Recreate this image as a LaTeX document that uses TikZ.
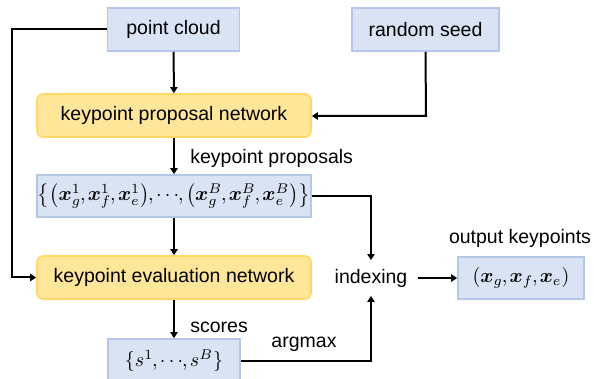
\documentclass[tikz,border=0pt]{standalone}
\usepackage{amsmath}
\usepackage{fontspec}
\setmainfont{Liberation Sans}
\usetikzlibrary{arrows.meta}
\definecolor{bfill}{HTML}{DAE3F3}
\definecolor{bdraw}{HTML}{B4C7E7}
\definecolor{yfill}{HTML}{FFE699}
\definecolor{ydraw}{HTML}{FFD966}
\newcommand{\bx}{\boldsymbol{x}}
\newcommand{\cm}{\mathpunct{\mkern-1mu,\mkern-1mu}}
\tikzset{
  bluebox/.style={draw=bdraw, fill=bfill, line width=0.8pt, inner sep=0pt, minimum height=21.5pt},
  yellowbox/.style={draw=ydraw, fill=yfill, line width=0.8pt, rounded corners=3pt, inner sep=0pt, minimum width=137pt, minimum height=21.5pt},
  conn/.style={line width=1pt, -{Triangle[length=3pt,width=3.6pt]}},
  lbl/.style={inner sep=0pt},
}
\begin{document}
\begin{tikzpicture}[x=0.5pt,y=-0.5pt,font=\fontsize{9.75}{11}\selectfont]
\useasboundingbox (0,0) rectangle (594,379);
\node[bluebox, minimum width=66pt] (pc) at (173.5,29.5) {point cloud};
\node[bluebox, minimum width=73.5pt] (rs) at (425.5,29.5) {random seed};
\node[yellowbox] (kpn) at (174,115.5) {keypoint proposal network};
\node[bluebox, minimum width=137pt, minimum height=21pt] (props) at (174,196)
  {$\big\{\big(\bx_g^1\cm\bx_f^1\cm\bx_e^1\big)\cm{\cdots}\cm\big(\bx_g^B\cm\bx_f^B\cm\bx_e^B\big)\big\}$};
\node[yellowbox] (ken) at (174,277.5) {keypoint evaluation network};
\node[bluebox, minimum width=66pt, minimum height=22pt] (sc) at (174,361) {$\{s^1\cm{\cdots}\cm s^B\}$};
\node[bluebox, minimum width=63pt, minimum height=21pt] (out) at (521,278) {$(\bx_g\cm\bx_f\cm\bx_e)$};
\node[inner xsep=5pt, inner ysep=0pt, minimum height=17.5pt] (idx) at (371,278) {indexing};
\node[lbl, anchor=west] (lprop) at (190,158) {keypoint proposals};
\node[lbl, anchor=west] (lsc) at (190,327) {scores};
\node[lbl] (lout) at (520,238) {output keypoints};
\node[lbl] (larg) at (304,344) {argmax};
\coordinate (c1) at (12,29.5);
\coordinate (c2) at (12,277.5);
\coordinate (c3) at (426,116);
\coordinate (c4) at (371,196);
\coordinate (c5) at (371,361);
\draw[conn] (pc) -- (kpn);
\draw[conn] (kpn) -- (props);
\draw[conn] (props) -- (ken);
\draw[conn] (ken) -- (sc);
\draw[conn] (pc.west) -- (c1) -- (c2) -- (ken.west);
\draw[conn] (rs.south) -- (c3) -- (kpn.east |- c3);
\draw[conn] (props.east) -- (c4) -- (idx.north);
\draw[conn] (sc.east) -- (c5) -- (idx.south);
\draw[conn] (idx.east) -- (out.west);
\end{tikzpicture}
\end{document}
